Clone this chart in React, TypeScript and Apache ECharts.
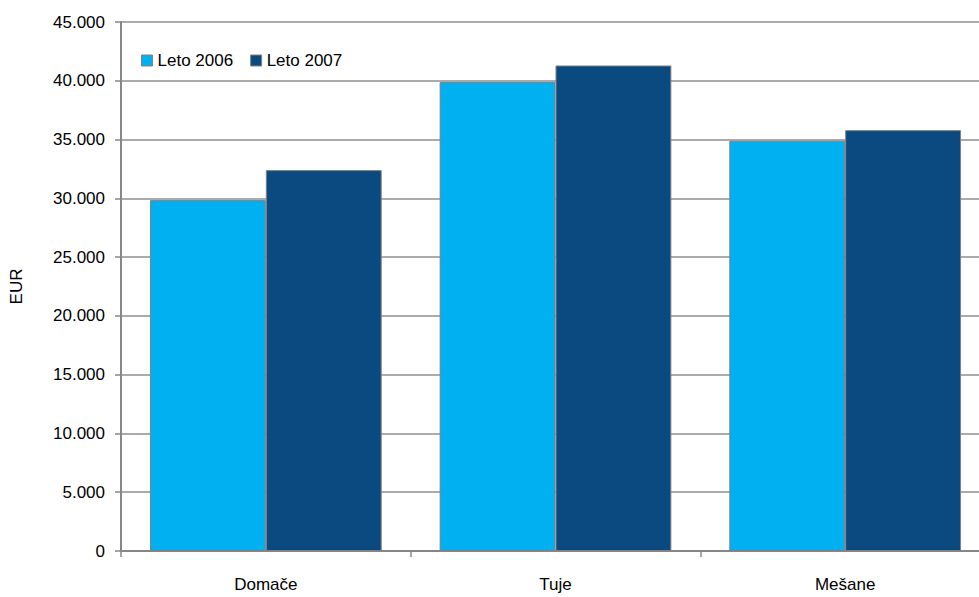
import React, { useEffect, useRef } from "react";
import * as echarts from "echarts";

const categories = ["Domače", "Tuje", "Mešane"];
const seriesNames = ["Leto 2006", "Leto 2007"];
const values2006 = [29850, 39900, 34900];
const values2007 = [32400, 41300, 35800];
const yTicks = { min: 0, max: 45000, interval: 5000 };

const fmt = (v: number) => String(v).replace(/\B(?=(\d{3})+(?!\d))/g, ".");

export default function App() {
  const ref = useRef<HTMLDivElement>(null);
  useEffect(() => {
    if (!ref.current) return;
    const chart = echarts.init(ref.current, null, { renderer: "svg" });
    const font = "Liberation Sans";
    const fs = 17;
    chart.setOption({
      animation: false,
      textStyle: { fontFamily: font },
      legend: {
        left: 136,
        top: 47,
        itemWidth: 11,
        itemHeight: 11,
        itemGap: 17,
        icon: "rect",
        textStyle: { fontSize: fs, color: "#000", fontFamily: font },
        data: seriesNames.map((n) => ({ name: n, itemStyle: { borderColor: "#808080", borderWidth: 1 } })),
      },
      grid: { left: 118, top: 22, bottom: 46, right: 0, containLabel: false },
      xAxis: {
        type: "category",
        data: categories,
        axisLine: { lineStyle: { color: "#878787", width: 2 } },
        axisTick: { show: true, length: 6, lineStyle: { color: "#878787", width: 1.5 } },
        axisLabel: { fontSize: fs, color: "#000", margin: 25, fontFamily: font },
      },
      yAxis: {
        type: "value",
        min: yTicks.min,
        max: yTicks.max,
        interval: yTicks.interval,
        name: "EUR",
        nameLocation: "middle",
        nameGap: 96,
        nameRotate: 90,
        nameTextStyle: { fontSize: fs, color: "#000", fontFamily: font },
        axisLine: { show: true, lineStyle: { color: "#878787", width: 2 } },
        axisTick: { show: true, length: 6, lineStyle: { color: "#878787", width: 1.5 } },
        axisLabel: { fontSize: fs, color: "#000", margin: 16, formatter: (v: number) => fmt(v), fontFamily: font },
        splitLine: { show: true, lineStyle: { color: "#8f8f8f", width: 1.5 } },
      },
      series: [
        {
          name: seriesNames[0],
          type: "bar",
          data: values2006,
          barGap: "0%",
          barCategoryGap: "20%",
          itemStyle: { color: "#00B0F0", borderColor: "#808080", borderWidth: 1 },
        },
        {
          name: seriesNames[1],
          type: "bar",
          data: values2007,
          barGap: "0%",
          barCategoryGap: "20%",
          itemStyle: { color: "#0B4A80", borderColor: "#808080", borderWidth: 1 },
        },
      ],
    });
    return () => chart.dispose();
  }, []);
  return (
    <div style={{ position: "absolute", left: 0, top: 0, width: 979, height: 597, overflow: "hidden", background: "#fff" }}>
      <div ref={ref} style={{ width: 990, height: 597 }} />
    </div>
  );
}
